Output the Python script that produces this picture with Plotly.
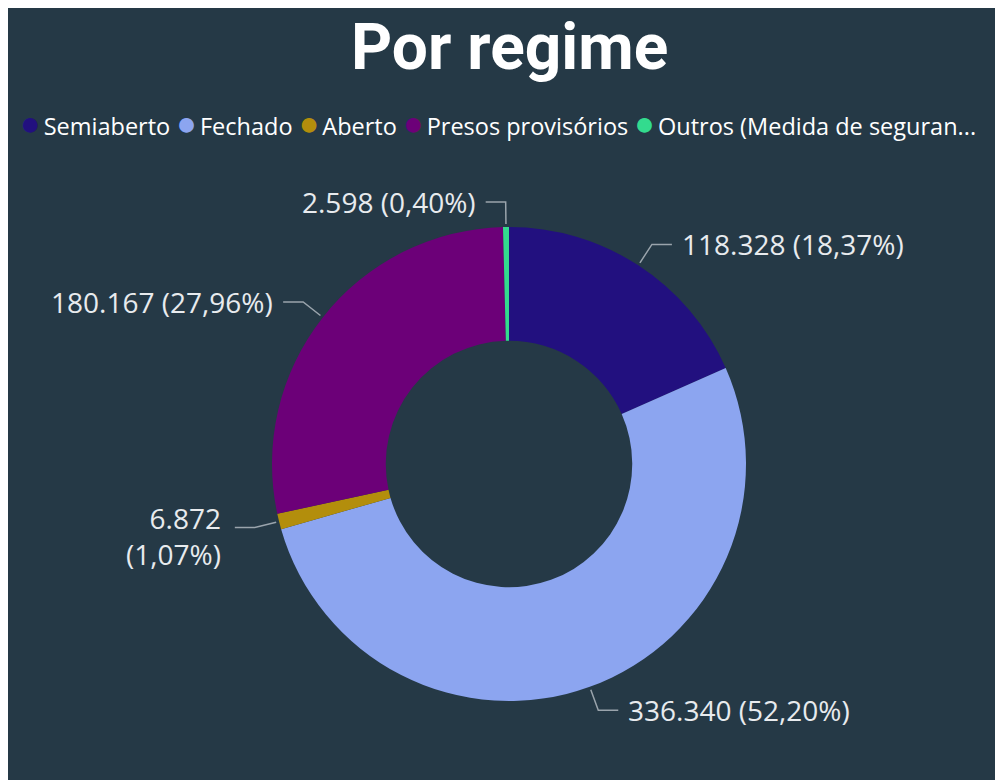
import math
import plotly.graph_objects as go

# ---- data ----
categories = ["Semiaberto", "Fechado", "Aberto", "Presos provisórios", "Outros (Medida de seguran..."]
values = [118328, 336340, 6872, 180167, 2598]
colors = ["#22107F", "#8CA5F0", "#B38E0C", "#6C0078", "#33DB8E"]
label_wrap = [False, False, True, False, False]
title_text = "Por regime"

# ---- layout constants ----
W, H = 1003, 780
OFF = 8  # page body margin
BG = "#253946"
CX, CY, R = 509, 464, 237  # page pixel coords
HOLE = 0.52
LINE_COL = "#9AA4AC"
LABEL_COL = "#E8EBEE"
FONT = "Open Sans, Segoe UI, sans-serif"


def px(x):
    return (x - OFF) / W


def py(y):
    return 1 - (y - OFF) / H


def fmt_int(v):
    return f"{v:,}".replace(",", ".")


def fmt_pct(p):
    return f"{p:.2f}".replace(".", ",") + "%"


total = sum(values)

fig = go.Figure()
fig.add_trace(go.Pie(
    labels=categories,
    values=values,
    hole=HOLE,
    sort=False,
    direction="clockwise",
    rotation=0,
    marker=dict(colors=colors, line=dict(width=0)),
    textinfo="none",
    showlegend=False,
    domain=dict(x=[px(CX - R), px(CX + R)], y=[py(CY + R), py(CY - R)]),
    hovertemplate="%{label}<br>%{value}<extra></extra>",
))

shapes = []
annotations = []

cum = 0
for cat, v, wrap in zip(categories, values, label_wrap):
    mid = (cum + v / 2) / total * 2 * math.pi
    cum += v
    s, c = math.sin(mid), math.cos(mid)
    sx, sy = CX + (R + 3) * s, CY - (R + 3) * c
    ex, ey = CX + (R + 25) * s, CY - (R + 25) * c
    side = 1 if s >= 0 else -1
    hx = ex + side * 20
    shapes.append(dict(type="path", xref="paper", yref="paper",
                       path=f"M {px(sx)},{py(sy)} L {px(ex)},{py(ey)} L {px(hx)},{py(ey)}",
                       line=dict(color=LINE_COL, width=1.5)))
    sep = "<br>" if wrap else " "
    txt = f"{fmt_int(v)}{sep}({fmt_pct(v / total * 100)})"
    annotations.append(dict(
        x=px(hx + side * (8 if not wrap else 12)), y=py(ey), xref="paper", yref="paper",
        text=txt, showarrow=False,
        xanchor="left" if side > 0 else "right", yanchor="middle",
        align="left" if side > 0 else "right",
        yshift=-8 if wrap else 0,
        font=dict(family=FONT, size=28, color=LABEL_COL),
    ))

# title
annotations.append(dict(x=px(CX), y=py(47), xref="paper", yref="paper", text=f"<b>{title_text}</b>",
                        showarrow=False, xanchor="center", yanchor="middle",
                        font=dict(family="Roboto, sans-serif", size=64, color="#FFFFFF")))

# legend row
gap = "<span style='font-size:12px'> </span>"
legend_parts = [f"<span style='color:{col};font-size:34px'>●</span>{gap}{cat}" for cat, col in zip(categories, colors)]
annotations.append(dict(x=px(18), y=py(122), xref="paper", yref="paper",
                        text=" ".join(legend_parts), showarrow=False,
                        xanchor="left", yanchor="middle",
                        font=dict(family=FONT, size=23.5, color="#FFFFFF")))

fig.update_layout(
    width=W, height=H,
    margin=dict(l=0, r=0, t=0, b=0),
    paper_bgcolor=BG,
    plot_bgcolor=BG,
    shapes=shapes,
    annotations=annotations,
)

fig.write_html("out.html")
